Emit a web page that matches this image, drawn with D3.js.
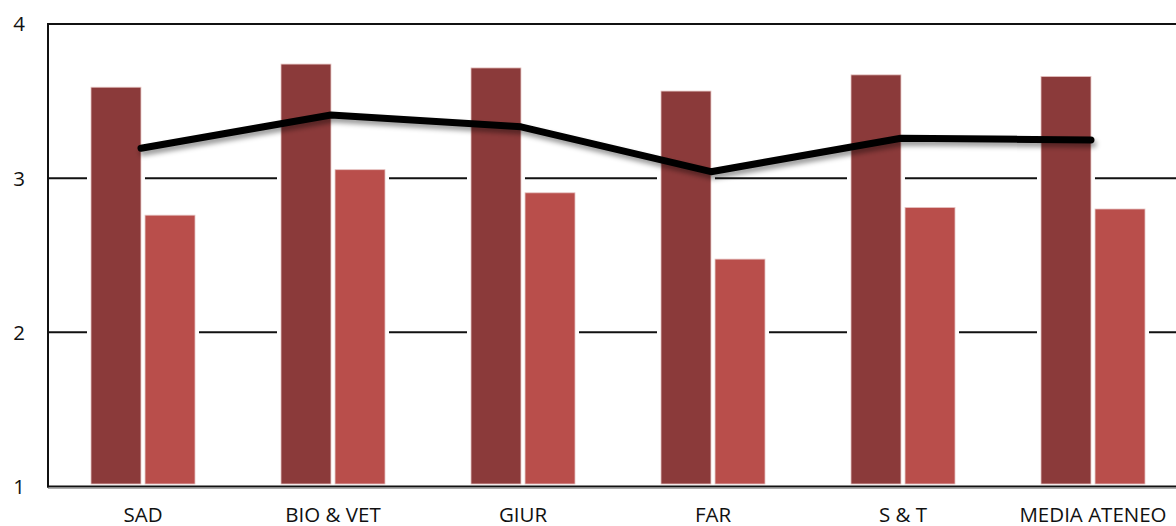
<!DOCTYPE html>
<html><head><meta charset="utf-8">
<script src="https://cdn.jsdelivr.net/npm/d3@7"></script>
<style>html,body{margin:0;padding:0;background:#fff;overflow:hidden}svg{display:block}</style>
</head><body>
<svg id="c" width="1176" height="526"></svg>
<script>
const categories = ["SAD", "BIO & VET", "GIUR", "FAR", "S & T", "MEDIA ATENEO"];
const series1 = [3.59, 3.74, 3.715, 3.565, 3.67, 3.66];
const series2 = [2.76, 3.055, 2.905, 2.475, 2.81, 2.80];
const lineValues = [3.194, 3.41, 3.333, 3.042, 3.259, 3.248];
const yTicks = [1, 2, 3, 4];

(function () {
const svg = d3.select("#c");
const pLeft = 48, pTop = 24, pBottom = 486.5, pRight = 48 + 6 * 190;
const x0 = d3.scaleBand().domain(categories).range([pLeft, pRight]).padding(0);
const x1 = d3.scaleBand().domain(["a", "b"]).range([0, 104]).paddingInner(0.075);
const y = d3.scaleLinear().domain([1, 4]).range([pBottom, pTop]);
const groupOff = (x0.bandwidth() - 104) / 2;
const font = "'Open Sans', sans-serif";
const fs = 20.5;

const defs = svg.append("defs");
const f = defs.append("filter").attr("id", "sh").attr("x", "-10%").attr("y", "-50%").attr("width", "120%").attr("height", "200%");
f.append("feDropShadow").attr("dx", 2).attr("dy", 4).attr("stdDeviation", 2.5).attr("flood-color", "#000").attr("flood-opacity", 0.4);

// gridlines (2,3) and top border (4)
svg.append("g").selectAll("line").data(yTicks.filter(d => d > 1)).join("line")
  .attr("x1", pLeft).attr("x2", 1176).attr("y1", d => y(d)).attr("y2", d => y(d))
  .attr("stroke", "#111").attr("stroke-width", 2);

const bars = [];
categories.forEach((c, i) => {
  bars.push({c, k: "a", v: series1[i], col: "#8b3a3a"});
  bars.push({c, k: "b", v: series2[i], col: "#b94e4b"});
});
const bx = d => x0(d.c) + groupOff + x1(d.k);
const barBottom = pBottom - 2.5;

// white halos that interrupt gridlines
svg.append("g").selectAll("rect").data(bars).join("rect")
  .attr("x", d => bx(d) - 4).attr("y", d => y(d.v) - 4)
  .attr("width", x1.bandwidth() + 8).attr("height", d => barBottom - y(d.v) + 4)
  .attr("fill", "#fff");

svg.append("g").selectAll("rect").data(bars).join("rect")
  .attr("x", d => bx(d)).attr("y", d => y(d.v))
  .attr("width", x1.bandwidth()).attr("height", d => barBottom - y(d.v))
  .attr("fill", d => d.col).attr("stroke", "#e6c4c2").attr("stroke-width", 0.8);

// axes
svg.append("line").attr("x1", pLeft).attr("x2", pLeft).attr("y1", pTop - 1).attr("y2", pBottom + 1)
  .attr("stroke", "#111").attr("stroke-width", 2);
svg.append("line").attr("x1", pLeft - 1).attr("x2", 1176).attr("y1", pBottom).attr("y2", pBottom)
  .attr("stroke", "#111").attr("stroke-width", 2);
svg.append("line").attr("x1", pLeft).attr("x2", 1176).attr("y1", pBottom + 1.8).attr("y2", pBottom + 1.8)
  .attr("stroke", "#999").attr("stroke-width", 1);

// y labels
svg.append("g").selectAll("text").data(yTicks).join("text")
  .attr("x", 25).attr("y", d => y(d)).attr("dy", "0.36em")
  .attr("text-anchor", "end").attr("font-family", font).attr("font-size", fs).attr("fill", "#111")
  .text(d => d);

// x labels
svg.append("g").selectAll("text").data(categories).join("text")
  .attr("x", d => x0(d) + x0.bandwidth() / 2).attr("y", 521.5)
  .attr("text-anchor", "middle").attr("font-family", font).attr("font-size", fs).attr("fill", "#111")
  .text(d => d);

// line
const line = d3.line().x((d, i) => x0(categories[i]) + x0.bandwidth() / 2 - 2).y(d => y(d));
svg.append("path").datum(lineValues).attr("d", line)
  .attr("fill", "none").attr("stroke", "#000").attr("stroke-width", 7)
  .attr("stroke-linecap", "round").attr("stroke-linejoin", "round")
  .attr("filter", "url(#sh)");
})();
</script>
</body></html>
